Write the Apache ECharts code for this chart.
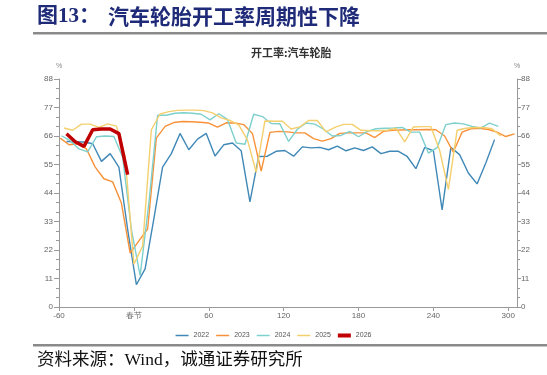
<!DOCTYPE html>
<html>
<head>
<meta charset="utf-8">
<script src="https://cdn.jsdelivr.net/npm/echarts@6.0.0/dist/echarts.min.js"></script>
<style>
html,body{margin:0;padding:0;background:#fff;}
#c{width:547px;height:375px;}
</style>
</head>
<body>
<div id="c"></div>
<script>
// Days relative to Spring Festival: each series is weekly, first day given
const seriesNames = ['2022', '2023', '2024', '2025', '2026'];
const startDay2022 = -54;
const startDay2023 = -59;
const startDay2024 = -58;
const startDay2025 = -56;
const startDay2026 = -54;
const weekStep = 7;

const values2022 = [63.9, 63.8, 63.7, 63.0, 56.2, 59.2, 54.0, 30.0, 8.6, 14.7, 34.0, 54.0, 59.2, 67.0, 60.7, 64.8, 67.0,
  58.3, 62.6, 63.3, 60.3, 40.6, 58.1, 58.2, 60.1, 60.4, 58.2, 61.8, 61.4, 61.6, 60.7, 62.1, 60.3, 61.4, 60.4, 61.8, 59.2,
  60.1, 60.1, 58.1, 53.4, 61.6, 60.3, 37.5, 61.6, 58.8, 51.7, 47.5, 55.6, 64.6];
const values2023 = [65.2, 62.6, 63.0, 61.0, 54.0, 49.5, 48.3, 40.1, 20.8, 25.5, 30.1, 65.2, 69.7, 71.2, 71.6, 71.5, 71.3,
  71.0, 69.4, 71.1, 71.0, 70.4, 67.0, 52.5, 67.4, 67.8, 67.6, 67.2, 67.2, 65.0, 64.0, 65.0, 67.0, 67.2, 67.2, 67.2, 65.4,
  67.8, 68.2, 68.3, 68.4, 68.4, 68.5, 68.4, 66.0, 59.8, 67.5, 68.8, 69.0, 68.5, 67.5, 65.8, 66.8];
const values2024 = [66.1, 64.2, 61.0, 59.9, 65.7, 66.0, 65.8, 57.8, 30.0, 12.1, 40.0, 74.0, 74.0, 74.8, 75.0, 74.8, 74.4,
  72.2, 74.6, 72.4, 63.3, 62.8, 74.4, 73.5, 70.8, 70.7, 63.9, 68.6, 71.0, 70.6, 68.6, 66.0, 66.2, 67.8, 65.7, 67.8, 68.8,
  69.0, 69.1, 69.3, 67.5, 67.5, 59.4, 61.5, 70.4, 71.0, 70.7, 69.7, 69.1, 71.0, 69.7];
const values2025 = [69.1, 68.2, 70.6, 70.6, 69.3, 70.7, 69.8, 58.0, 16.5, 23.5, 68.4, 74.5, 75.4, 75.9, 76.0, 76.0, 75.8,
  74.9, 73.0, 72.0, 70.3, 64.5, 52.0, 71.8, 71.7, 71.7, 68.7, 69.5, 72.0, 72.0, 67.6, 69.3, 70.5, 70.5, 68.2, 68.0, 68.0,
  68.2, 69.0, 63.7, 69.5, 69.6, 69.6, 60.5, 45.4, 68.2, 69.0, 69.3, 69.3, 68.8, 66.0];
const values2026 = [66.9, 63.8, 62.0, 68.4, 68.7, 68.7, 66.9, 51.1];

const yTicks = [0, 11, 22, 33, 44, 55, 66, 77, 88];
const xTickLabels = {'-60': '-60', '0': '春节', '60': '60', '120': '120', '180': '180', '240': '240', '300': '300'};

const colors = ['#3f88b7', '#f7923a', '#7ed0cd', '#f4cf6e', '#c00000'];

function pairs(start, vals) {
  return vals.map((v, i) => [start + i * weekStep, v]);
}

const allData = [
  pairs(startDay2022, values2022),
  pairs(startDay2023, values2023),
  pairs(startDay2024, values2024),
  pairs(startDay2025, values2025),
  pairs(startDay2026, values2026)
];

const chart = echarts.init(document.getElementById('c'), null, {renderer: 'canvas'});

function yAxisCfg(pos) {
  const left = pos === 'left';
  return {
    type: 'value', position: pos, min: yTicks[0], max: yTicks[yTicks.length - 1], interval: 11,
    name: '%', nameLocation: 'end', nameGap: 9,
    nameTextStyle: {fontSize: 7, color: '#888', align: 'center', fontFamily: 'Arial'},
    axisLine: {show: true, onZero: false, lineStyle: {color: '#999', width: 1}},
    axisTick: {show: true, length: left ? 5 : 4, lineStyle: {color: '#999'}},
    minorTick: {show: true, splitNumber: 3, length: 3, lineStyle: {color: '#999'}},
    axisLabel: {fontSize: 8, color: '#666', margin: left ? 6 : 4, fontFamily: 'Arial'},
    splitLine: {show: false}
  };
}

const option = {
  animation: false,
  backgroundColor: '#fff',
  color: colors,
  grid: {left: 59, right: 30, top: 79, bottom: 68, containLabel: false},
  xAxis: {
    type: 'value', min: -60, max: 307, interval: 60,
    axisLine: {show: true, onZero: false, lineStyle: {color: '#999', width: 1}},
    axisTick: {show: true, length: 4, lineStyle: {color: '#999'}},
    axisLabel: {
      fontSize: 8, color: '#666', margin: 5, showMaxLabel: false, fontFamily: 'Arial',
      formatter: v => (xTickLabels[String(v)] !== undefined ? xTickLabels[String(v)] : '')
    },
    splitLine: {show: false}
  },
  yAxis: [yAxisCfg('left'), yAxisCfg('right')],
  legend: {
    top: 327, left: 'center', itemWidth: 13, itemHeight: 4, itemGap: 7,
    textStyle: {fontSize: 7, color: '#555', fontFamily: 'Arial'},
    data: seriesNames.map((n, i) => ({
      name: n,
      icon: i === 4 ? 'rect' : 'path://M0,0H26V3H0Z'
    }))
  },
  graphic: [
    {type: 'text', left: 37, top: 6, style: {text: '图13：', fontSize: 21, fontWeight: 'bold', fill: '#1f2b78', fontFamily: '"Liberation Serif","Noto Sans CJK SC",serif'}},
    {type: 'text', left: 108, top: 6, style: {text: '汽车轮胎开工率周期性下降', fontSize: 21, fontWeight: 'bold', fill: '#1f2b78', fontFamily: '"Noto Sans CJK SC",sans-serif'}},
    {type: 'rect', shape: {x: 33, y: 32, width: 514, height: 2.5}, style: {fill: '#8a8a8a'}},
    {type: 'text', left: 251, top: 47, style: {text: '开工率:汽车轮胎', fontSize: 11, fontWeight: 'bold', fill: '#333', fontFamily: '"Noto Sans CJK SC",sans-serif'}},
    {type: 'rect', shape: {x: 33, y: 344, width: 514, height: 2.5}, style: {fill: '#8a8a8a'}},
    {type: 'text', left: 37, top: 352, style: {text: '资料来源：Wind，诚通证券研究所', fontSize: 17.5, fill: '#111', fontFamily: '"Liberation Serif","Noto Sans CJK SC",serif'}}
  ],
  series: seriesNames.map((n, i) => ({
    name: n, type: 'line', data: allData[i], showSymbol: false, symbol: 'none',
    yAxisIndex: 0,
    z: i === 4 ? 10 : 2 + i,
    lineStyle: {width: i === 4 ? 3.5 : 1.4, color: colors[i]},
    itemStyle: {color: colors[i]}
  }))
};
chart.setOption(option);
</script>
</body>
</html>
